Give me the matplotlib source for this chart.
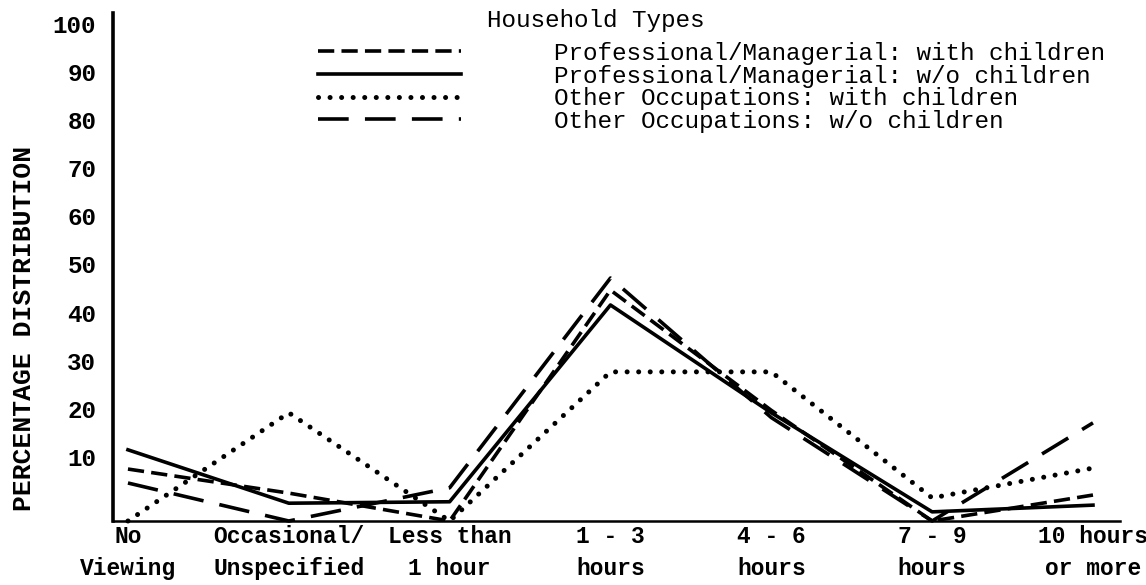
import matplotlib.pyplot as plt
from matplotlib.transforms import ScaledTranslation

# viewing time categories (x axis)
categories = ['No\nViewing', 'Occasional/\nUnspecified', 'Less than\n1 hour',
              '1 - 3\nhours', '4 - 6\nhours', '7 - 9\nhours', '10 hours\nor more']
y_ticks = [10, 20, 30, 40, 50, 60, 70, 80, 90, 100]

# percentage distribution per household type
prof_with = [10.8, 5.8, 0, 48.0, 23.0, 0, 5.4]
prof_without = [14.8, 3.7, 4.0, 44.9, 22.5, 1.9, 3.3]
other_with = [0, 22.5, 0, 31.0, 31.0, 4.8, 11.0]
other_without = [7.9, 0, 6.9, 50.5, 21.5, 0, 20.4]

series_labels = ['Professional/Managerial: with children',
                 'Professional/Managerial: w/o children',
                 'Other Occupations: with children',
                 'Other Occupations: w/o children']

plt.rcParams['font.family'] = ['Liberation Mono', 'DejaVu Sans Mono']

fig = plt.figure(figsize=(11.46, 5.85), dpi=100)
ax = fig.add_axes([113/1146, 64/585, 1007/1146, 508/585])

x = list(range(len(categories)))
ax.plot(x, prof_with, color='black', lw=2.6, linestyle=(0, (4.5, 2)),
        label=series_labels[0], clip_on=False)
ax.plot(x, prof_without, color='black', lw=2.6,
        label=series_labels[1], clip_on=False)
ax.plot(x, other_with, color='black', lw=3.6, linestyle=(0, (0.01, 2.3)),
        dash_capstyle='round', label=series_labels[2], clip_on=False)
ax.plot(x, other_without, color='black', lw=2.6, linestyle=(0, (8.5, 4.5)),
        label=series_labels[3], clip_on=False)

ax.set_xlim(-0.093, 6.168)
ax.set_ylim(0, 105.6)

ax.set_xticks(x)
ax.set_xticklabels(categories, fontsize=16.5, fontweight='bold', linespacing=1.5)
ax.set_yticks(y_ticks)
ax.set_yticklabels([str(v) for v in y_ticks], fontsize=17.5, fontweight='bold')
ax.tick_params(length=0)
ax.tick_params(axis='y', pad=12)
ax.tick_params(axis='x', pad=3)

# the typed tick numbers sit a little above their gridline position
offset = ScaledTranslation(0, 0.16, fig.dpi_scale_trans)
for lab in ax.get_yticklabels():
    lab.set_transform(lab.get_transform() + offset)

for s in ['top', 'right']:
    ax.spines[s].set_visible(False)
ax.spines['left'].set_linewidth(2.6)
ax.spines['bottom'].set_linewidth(1.8)

fig.text(24/1146, 1 - 328/585, 'PERCENTAGE DISTRIBUTION', rotation=90,
         va='center', ha='center', fontsize=19, fontweight='bold')

ax.legend(loc='upper left', bbox_to_anchor=(318/1146, 1 - 42/585),
          bbox_transform=fig.transFigure, frameon=False, fontsize=17.5,
          handlelength=5.9, handletextpad=3.8, labelspacing=-0.02,
          borderpad=0, borderaxespad=0)
fig.text(487/1146, 1 - 20/585, 'Household Types', fontsize=17.5, va='center')

fig.savefig('out.png', dpi=100)
